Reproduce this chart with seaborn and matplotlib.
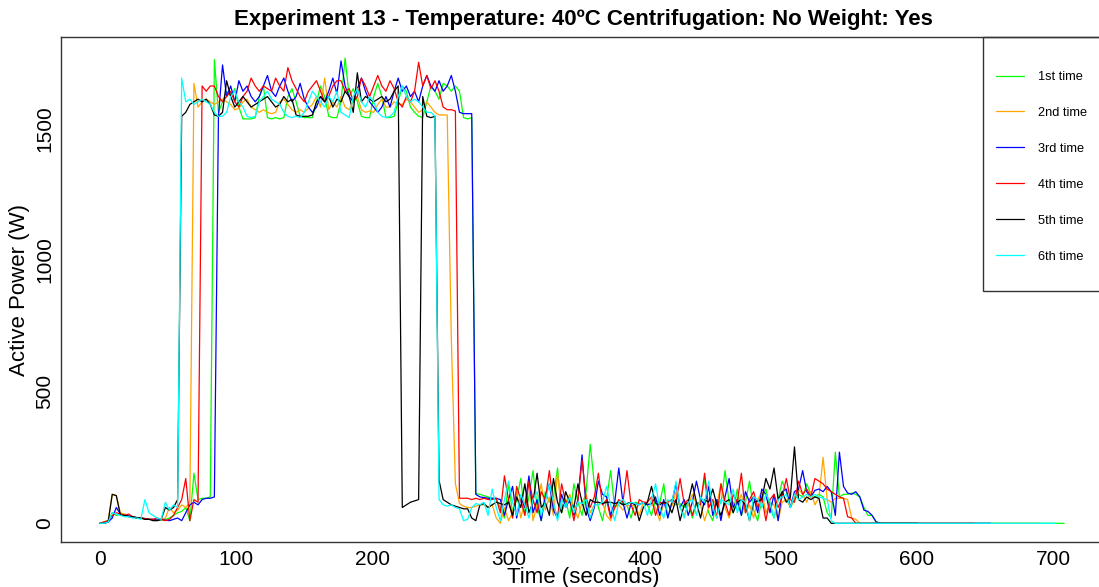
import numpy as np
import pandas as pd
import matplotlib
matplotlib.use("Agg")
import matplotlib.pyplot as plt
from matplotlib.lines import Line2D
from matplotlib.patches import Rectangle
import seaborn as sns

STEP = 3  # seconds between samples

run_1st = [
    0, 5, 10, 40, 30, 35, 30, 28, 25, 22,
    20, 18, 15, 15, 12, 12, 15, 20, 30, 40,
    45, 60, 10, 190, 90, 95, 95, 100, 1760, 1560,
    1600, 1640, 1620, 1650, 1580, 1535, 1535, 1535, 1540, 1620,
    1660, 1540, 1535, 1540, 1535, 1540, 1620, 1650, 1600, 1545,
    1540, 1540, 1540, 1600, 1660, 1620, 1545, 1540, 1540, 1600, 1766,
    1620, 1650, 1600, 1545, 1540, 1540, 1620, 1670, 1620, 1540,
    1540, 1545, 1600, 1660, 1640, 1580, 1560, 1545, 1540, 1600,
    1660, 1640, 1610, 1670, 1660, 1640, 1660, 1640, 1540, 1535,
    1540, 113, 110, 105, 100, 95, 90, 60, 20, 150,
    40, 90, 170, 30, 100, 200, 60, 10, 120, 80,
    100, 210, 40, 90, 20, 150, 80, 30, 120, 300, 150,
    60, 10, 90, 200, 60, 80, 75, 70, 20, 80,
    75, 75, 70, 30, 90, 75, 150, 20, 80, 70,
    75, 60, 80, 20, 75, 80, 170, 40, 10, 90,
    75, 200, 80, 40, 130, 30, 80, 160, 50, 10,
    90, 130, 60, 20, 90, 160, 120, 60, 90, 110,
    100, 150, 110, 100, 110, 100, 40, 20, 270, 100,
    110, 110, 115, 110, 100, 60, 30, 30, 5, 2,
    0, 0, 0, 0, 0, 0, 0, 0, 0, 0,
    0, 0, 0, 0, 0, 0, 0, 0, 0, 0,
    0, 0, 0, 0, 0, 0, 0, 0, 0, 0,
    0, 0, 0, 0, 0, 0, 0, 0, 0, 0,
    0, 0, 0, 0, 0,
]

run_2nd = [
    0, 5, 10, 110, 105, 40, 35, 30, 25, 20,
    20, 15, 15, 15, 10, 15, 20, 60, 40, 50,
    70, 60, 80, 1670, 1580, 1600, 1610, 1600, 1590, 1600,
    1610, 1600, 1590, 1570, 1575, 1600, 1610, 1580, 1570, 1560,
    1570, 1560, 1555, 1560, 1600, 1610, 1590, 1570, 1560, 1570,
    1560, 1575, 1590, 1620, 1580, 1690, 1570, 1600, 1580, 1620, 1580,
    1570, 1600, 1620, 1570, 1560, 1565, 1560, 1590, 1610, 1580,
    1580, 1600, 1590, 1590, 1610, 1600, 1580, 1560, 1570, 1600,
    1580, 1560, 1550, 1550, 1550, 700, 150, 75, 65, 60,
    60, 65, 70, 70, 60, 70, 20, 0, 60, 10,
    40, 120, 20, 80, 160, 10, 70, 150, 50, 100,
    30, 190, 50, 80, 110, 60, 20, 80, 110, 40, 70,
    70, 80, 30, 10, 60, 70, 50, 70, 65, 70,
    30, 80, 75, 70, 60, 10, 80, 70, 65, 120,
    60, 30, 70, 110, 75, 70, 10, 60, 90, 70,
    150, 60, 20, 80, 70, 110, 40, 70, 20, 90,
    120, 40, 80, 70, 10, 80, 90, 60, 100, 130,
    110, 80, 120, 70, 100, 250, 90, 80, 95, 95,
    95, 90, 20, 15, 0, 0, 0, 0, 0, 0,
    0, 0, 0, 0, 0, 0, 0, 0, 0, 0,
    0, 0, 0, 0, 0, 0, 0, 0, 0, 0,
    0, 0, 0, 0, 0, 0, 0, 0, 0, 0,
    0, 0, 0, 0, 0, 0, 0, 0, 0,
]

run_3rd = [
    0, 0, 5, 20, 60, 35, 30, 28, 25, 22,
    20, 18, 15, 15, 12, 15, 12, 10, 15, 20,
    10, 40, 70, 80, 70, 90, 95, 95, 100, 1545,
    1740, 1620, 1660, 1600, 1680, 1640, 1660, 1620, 1600, 1620,
    1660, 1700, 1640, 1620, 1660, 1690, 1640, 1600, 1620, 1670,
    1610, 1580, 1560, 1580, 1620, 1600, 1640, 1690, 1630, 1755, 1660,
    1620, 1600, 1650, 1690, 1640, 1600, 1580, 1560, 1580, 1620,
    1580, 1640, 1690, 1640, 1660, 1620, 1640, 1600, 1660, 1700,
    1660, 1640, 1680, 1640, 1660, 1700, 1640, 1560, 1555, 1555,
    1555, 110, 100, 98, 95, 95, 95, 90, 30, 90,
    140, 20, 100, 60, 180, 40, 90, 10, 100, 150,
    50, 20, 110, 60, 90, 30, 90, 260, 60, 10, 60,
    160, 110, 100, 30, 80, 210, 80, 20, 75, 75,
    70, 80, 70, 75, 100, 30, 90, 20, 80, 150,
    60, 90, 30, 80, 160, 90, 70, 140, 30, 90,
    10, 100, 170, 60, 90, 30, 120, 80, 100, 40,
    130, 110, 40, 110, 10, 120, 130, 60, 120, 130,
    200, 120, 100, 125, 130, 120, 140, 120, 30, 270,
    140, 115, 110, 120, 100, 50, 45, 30, 5, 0,
    0, 0, 0, 0, 0, 0, 0, 0, 0, 0,
    0, 0, 0, 0, 0, 0, 0, 0, 0, 0,
    0, 0, 0, 0, 0, 0, 0,
]

run_4th = [
    0, 5, 10, 30, 40, 35, 30, 35, 25, 20,
    20, 18, 15, 15, 20, 15, 10, 15, 30, 60,
    90, 170, 10, 90, 80, 1660, 1640, 1660, 1660, 1620,
    1600, 1620, 1640, 1600, 1580, 1620, 1640, 1690, 1660, 1640,
    1660, 1650, 1640, 1690, 1660, 1640, 1730, 1680, 1650, 1620,
    1600, 1640, 1660, 1680, 1640, 1600, 1620, 1660, 1680, 1680, 1640,
    1650, 1600, 1620, 1690, 1660, 1620, 1660, 1700, 1660, 1640,
    1680, 1650, 1600, 1580, 1620, 1600, 1640, 1750, 1660, 1700,
    1650, 1680, 1640, 1580, 1570, 1570, 1565, 95, 95, 95,
    90, 95, 90, 95, 90, 90, 95, 40, 180, 90,
    20, 140, 90, 30, 160, 90, 40, 120, 90, 200,
    70, 20, 150, 80, 90, 10, 90, 240, 90, 60, 100,
    190, 70, 90, 20, 60, 90, 80, 200, 70, 30,
    90, 80, 80, 100, 30, 80, 75, 80, 90, 80,
    170, 75, 90, 30, 80, 70, 190, 60, 90, 20,
    150, 80, 30, 110, 80, 190, 40, 90, 120, 60,
    100, 10, 90, 110, 60, 100, 170, 90, 80, 160,
    110, 130, 100, 170, 160, 150, 130, 120, 110, 100,
    95, 25, 20, 0, 0, 0, 0, 0, 0, 0,
    0, 0, 0, 0, 0, 0, 0, 0, 0, 0,
    0, 0, 0, 0, 0, 0, 0, 0, 0, 0,
    0, 0, 0,
]

run_5th = [
    0, 0, 5, 110, 105, 30, 30, 25, 25, 20,
    20, 15, 15, 10, 10, 15, 60, 50, 60, 90,
    1545, 1560, 1590, 1600, 1610, 1600, 1610, 1590, 1550, 1545,
    1560, 1680, 1620, 1580, 1600, 1620, 1600, 1580, 1590, 1600,
    1610, 1620, 1600, 1580, 1590, 1620, 1600, 1610, 1550, 1545,
    1545, 1545, 1550, 1600, 1620, 1600, 1620, 1580, 1610, 1600, 1640,
    1620, 1560, 1710, 1600, 1620, 1610, 1600, 1610, 1620, 1600,
    1610, 1640, 1660, 60, 70, 80, 85, 90, 1620, 1545,
    1540, 1545, 163, 90, 80, 70, 65, 60, 55, 55,
    20, 10, 70, 75, 60, 70, 80, 75, 70, 80,
    30, 100, 60, 150, 40, 80, 190, 60, 80, 30,
    170, 80, 40, 120, 80, 60, 150, 80, 30, 90, 80,
    80, 75, 80, 80, 75, 80, 70, 75, 80, 70,
    10, 60, 80, 140, 75, 70, 80, 75, 40, 90,
    10, 70, 80, 150, 80, 20, 90, 80, 130, 70,
    30, 80, 90, 40, 80, 90, 70, 10, 80, 85,
    90, 170, 130, 210, 90, 120, 80, 100, 290, 90,
    80, 100, 90, 100, 95, 20, 20, 0, 0, 0,
    0, 0, 0, 0, 0, 0, 0, 0, 0, 0,
    0, 0, 0, 0, 0, 0, 0, 0, 0,
]

run_6th = [
    0, 0, 5, 40, 35, 30, 25, 25, 20, 20,
    15, 90, 40, 30, 20, 15, 80, 50, 70, 60,
    1690, 1600, 1610, 1590, 1600, 1610, 1600, 1590, 1560, 1545,
    1545, 1560, 1620, 1640, 1600, 1580, 1545, 1540, 1545, 1600,
    1620, 1640, 1610, 1600, 1590, 1560, 1545, 1540, 1545, 1540,
    1560, 1600, 1640, 1620, 1600, 1580, 1620, 1600, 1640, 1560, 1550,
    1540, 1620, 1650, 1600, 1580, 1620, 1600, 1560, 1545, 1540,
    1545, 1560, 1620, 1660, 1620, 1600, 1610, 1600, 1580, 1560,
    1560, 1545, 90, 70, 65, 70, 60, 55, 10, 15,
    60, 75, 70, 80, 30, 130, 60, 10, 90, 160,
    80, 30, 110, 70, 20, 90, 120, 30, 80, 150,
    80, 10, 90, 60, 100, 40, 80, 75, 90, 20, 70,
    70, 80, 140, 70, 10, 80, 90, 70, 80, 75,
    70, 80, 30, 90, 150, 60, 20, 90, 80, 160,
    60, 20, 80, 90, 30, 100, 80, 160, 60, 20,
    90, 80, 70, 130, 40, 90, 80, 10, 100, 90,
    60, 110, 80, 20, 90, 100, 110, 60, 110, 90,
    100, 110, 100, 110, 100, 95, 90, 10, 0, 0,
    0, 0, 0, 0, 0, 0, 0, 0, 0, 0,
    0, 0, 0, 0, 0, 0, 0, 0, 0, 0,
    0, 0, 0, 0, 0, 0, 0, 0, 0, 0,
    0, 0, 0, 0, 0, 0, 0, 0, 0, 0,
    0, 0, 0, 0, 0, 0, 0, 0, 0, 0,
    0, 0, 0,
]

run_labels = ["1st time", "2nd time", "3rd time", "4th time", "5th time", "6th time"]
run_colors = ["#00FF00", "#FFA500", "#0000FF", "#FF0000", "#000000", "#00FFFF"]
x_ticks = [0, 100, 200, 300, 400, 500, 600, 700]
y_ticks = [0, 500, 1000, 1500]
title_text = "Experiment 13 - Temperature: 40\u00baC Centrifugation: No Weight: Yes"

all_runs = [run_1st, run_2nd, run_3rd, run_4th, run_5th, run_6th]
frames = []
for lab, vals in zip(run_labels, all_runs):
    frames.append(pd.DataFrame({"Time": np.arange(len(vals)) * STEP,
                                "Power": vals, "Run": lab}))
df = pd.concat(frames, ignore_index=True)

sns.set_theme(style="white")
plt.rcParams["font.family"] = ["Liberation Sans", "DejaVu Sans"]
plt.rcParams["text.color"] = "black"
plt.rcParams["axes.labelcolor"] = "black"
plt.rcParams["xtick.color"] = "black"
plt.rcParams["ytick.color"] = "black"

W, H = 1099, 587
fig = plt.figure(figsize=(W / 100, H / 100), dpi=100)
ax_l, ax_r, ax_t, ax_b = 61.3, 1105.5, 37, 542
ax = fig.add_axes([ax_l / W, 1 - ax_b / H, (ax_r - ax_l) / W, (ax_b - ax_t) / H])

sns.lineplot(data=df, x="Time", y="Power", hue="Run", hue_order=run_labels,
             palette=run_colors, linewidth=0.9, estimator=None, sort=False,
             legend=False, ax=ax)

ax.set_xlim(-28.4, 738.4)
ax.set_ylim(-71, 1846)
ax.set_xticks(x_ticks)
ax.set_yticks(y_ticks)
ax.set_xticklabels([str(v) for v in x_ticks])
ax.set_yticklabels([str(v) for v in y_ticks], rotation=90, va="center")
ax.tick_params(axis="both", direction="out", length=6, width=1, color="#333333",
               labelsize=15, labelcolor="black")
ax.tick_params(axis="x", pad=0)
ax.tick_params(axis="y", pad=-1)
for side in ["left", "bottom", "top"]:
    ax.spines[side].set_color("#333333")
    ax.spines[side].set_linewidth(1)
ax.spines["right"].set_visible(False)

ax.set_xlabel("Time (seconds)", fontsize=16)
ax.set_ylabel("Active Power (W)", fontsize=16)
ax.xaxis.set_label_coords(0.5, -(578 - ax_b) / (ax_b - ax_t), transform=ax.transAxes)
ax.yaxis.set_label_coords(-(ax_l - 20) / (ax_r - ax_l), 0.5, transform=ax.transAxes)
ax.xaxis.label.set_va("center")
ax.yaxis.label.set_va("center")

fig.text(583 / W, 1 - 20 / H, title_text, ha="center", va="center",
         fontsize=16, fontweight="bold", color="black")

# legend frame + entries
fig.add_artist(Rectangle((983 / W, 1 - 291 / H), (1140 - 983) / W, (291 - 37) / H,
                         transform=fig.transFigure, fill=False,
                         edgecolor="#333333", linewidth=1, clip_on=False))
handles = [Line2D([], [], color=c, linewidth=0.9) for c in run_colors]
fs = 9.2
fs_px = fs * 100 / 72
leg = ax.legend(handles, run_labels, loc="upper left",
                bbox_to_anchor=(996 / W, 1 - 71 / H), bbox_transform=fig.transFigure,
                frameon=False, borderpad=0, borderaxespad=0, fontsize=fs,
                handlelength=28 / fs_px, handletextpad=14 / fs_px,
                labelspacing=(36 - 15) / fs_px + 0.23)
for t in leg.get_texts():
    t.set_color("black")

fig.savefig("out.png", dpi=100)
